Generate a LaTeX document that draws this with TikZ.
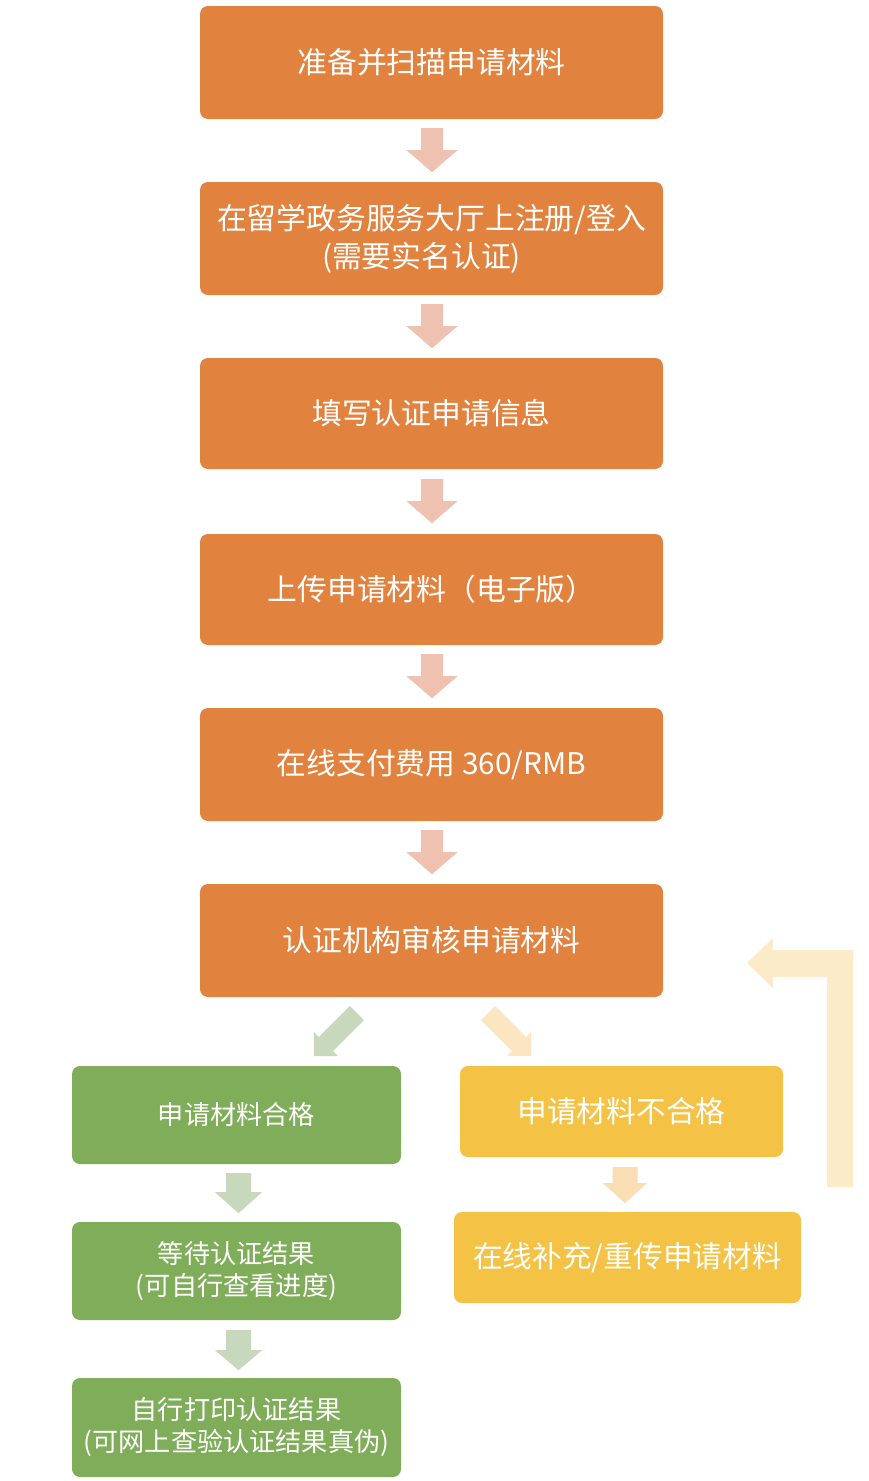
\documentclass[tikz,border=0pt]{standalone}
\usepackage{fontspec}
\setmainfont{Noto Sans CJK SC}
\usetikzlibrary{calc}
\definecolor{orangebox}{HTML}{E1823F}
\definecolor{greenbox}{HTML}{7FAD59}
\definecolor{yellowbox}{HTML}{F4C244}
\definecolor{pinkarrow}{HTML}{EEC1B1}
\definecolor{greenarrow}{HTML}{C8D8BD}
\definecolor{yellowarrow}{HTML}{F9DEB4}
\definecolor{diagyellow}{HTML}{FBE6C2}
\definecolor{backarrow}{HTML}{FCEBC8}
\newcommand\blockdown[8]{\fill[#1] ($(#2)+({#3-#4},#6)$) -- ++({2*#4},0) -- ++(0,#7) -- ++({#5-#4},0) -- ++({-#5},#8) -- ++({-#5},{-#8}) -- ++({#5-#4},0) -- cycle;}
\tikzset{
  boxbase/.style={rounded corners=8pt, draw=none, text=white, inner sep=0pt, align=center},
  obox/.style={boxbase, fill=orangebox, minimum width=463pt, font=\fontsize{29.8}{38}\selectfont},
  gbox/.style={boxbase, fill=greenbox, minimum width=329pt, minimum height=98pt, font=\fontsize{26.2}{32}\selectfont},
  ybox/.style={boxbase, fill=yellowbox, minimum height=91pt, font=\fontsize{29.7}{36}\selectfont},
  parr/.style={fill=pinkarrow},
  garr/.style={fill=greenarrow},
  yarr/.style={fill=yellowarrow},
}
\begin{document}
\begin{tikzpicture}[x=1pt,y=-1pt]
\useasboundingbox[fill=white] (0,0) rectangle (868,1481);
% orange boxes
\node[obox, minimum height=113pt] (o1) at (431.5,62.5) {准备并扫描申请材料};
\node[obox, minimum height=113pt] (o2) at (431.5,238.5) {在留学政务服务大厅上注册/登入\\(需要实名认证)\hspace*{20pt}};
\node[obox, minimum height=111pt] (o3) at (431.5,413.5) {填写认证申请信息};
\node[obox, minimum height=111pt] (o4) at (431.5,589.5) {上传申请材料（电子版）};
\node[obox, minimum height=113pt] (o5) at (431.5,764.5) {在线支付费用 360/RMB};
\node[obox, minimum height=113pt] (o6) at (431.5,940.5) {认证机构审核申请材料};
% green boxes
\node[gbox] (g1) at (236.5,1115) {申请材料合格};
\node[gbox] (g2) at (236.5,1271) {等待认证结果\\(可自行查看进度)};
\node[gbox, minimum height=99pt] (g3) at (236.5,1427.5) {自行打印认证结果\\(可网上查验认证结果真伪)};
% yellow boxes
\node[ybox, minimum width=323pt] (y1) at (621.5,1111.5) {申请材料不合格};
\node[ybox, minimum width=347pt] (y2) at (627.5,1257.5) {在线补充/重传申请材料};
% orange down arrows
\blockdown{parr}{o1.south}{0.5}{11}{25.5}{9}{22}{22}
\blockdown{parr}{o2.south}{0.5}{11}{25.5}{9}{22}{22}
\blockdown{parr}{o3.south}{0.5}{11}{25.5}{10}{22}{22}
\blockdown{parr}{o4.south}{0.5}{11}{25.5}{9}{22}{22}
\blockdown{parr}{o5.south}{0.5}{11}{25.5}{9}{22}{22}
% green down arrows
\blockdown{garr}{g1.south}{2}{12.5}{23.5}{9}{19}{21}
\blockdown{garr}{g2.south}{2}{12.5}{23.5}{10}{20}{20}
% yellow down arrow
\blockdown{yarr}{y1.south}{3.5}{12.5}{22}{10}{16}{20}
% diagonal arrows
\fill[garr] (349.9,1005.9) -- (318.8,1037.0) -- (313.9,1032.1) -- (313.9,1056.1) -- (337.9,1056.1) -- (333.0,1051.2) -- (364.1,1020.1) -- cycle;
\fill[diagyellow] (495.1,1005.9) -- (526.2,1037.0) -- (531.1,1032.1) -- (531.1,1056.1) -- (507.1,1056.1) -- (512.0,1051.2) -- (480.9,1020.1) -- cycle;
% feedback arrow
\fill[backarrow] (853,1187) -- (853,950) -- (773,950) -- (773,938) -- (747,963) -- (773,988) -- (773,977) -- (827,977) -- (827,1187) -- cycle;
\end{tikzpicture}
\end{document}
